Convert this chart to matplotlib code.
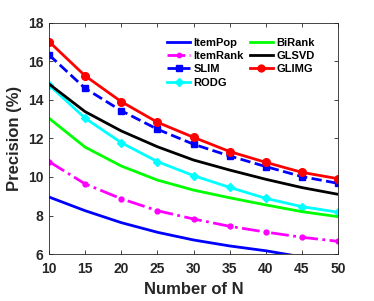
import numpy as np
import matplotlib
matplotlib.use("Agg")
import matplotlib.pyplot as plt

plt.rcParams["font.family"] = ["Liberation Sans", "DejaVu Sans"]
plt.rcParams["font.weight"] = "bold"

n_values = [10, 15, 20, 25, 30, 35, 40, 45, 50]

itempop = [8.96, 8.25, 7.63, 7.13, 6.73, 6.42, 6.17, 5.85, 5.6]
itemrank = [10.8, 9.64, 8.87, 8.25, 7.82, 7.44, 7.14, 6.87, 6.66]
slim = [16.34, 14.6, 13.44, 12.48, 11.7, 11.09, 10.54, 10.02, 9.67]
rodg = [14.78, 13.05, 11.78, 10.8, 10.07, 9.46, 8.89, 8.46, 8.17]
birank = [13.05, 11.55, 10.57, 9.84, 9.32, 8.92, 8.55, 8.2, 7.94]
glsvd = [14.83, 13.39, 12.39, 11.57, 10.88, 10.36, 9.88, 9.45, 9.1]
glimg = [17.03, 15.25, 13.91, 12.84, 12.06, 11.32, 10.76, 10.24, 9.91]

fig = plt.figure(figsize=(3.74, 3.01), dpi=100)
ax = fig.add_axes([0.131, 0.156, 0.773, 0.768])

lw = 2
ax.plot(n_values, itempop, color=(0, 0, 1), lw=lw, label="ItemPop")
ax.plot(n_values, itemrank, color=(1, 0, 1), lw=lw, ls="-.", marker=".",
        markersize=7, label="ItemRank")
ax.plot(n_values, slim, color=(0, 0, 1), lw=lw, ls="--", marker="s",
        markersize=4.5, label="SLIM")
ax.plot(n_values, rodg, color=(0, 1, 1), lw=lw, marker="D",
        markersize=4.5, label="RODG")
ax.plot(n_values, birank, color=(0, 1, 0), lw=lw, label="BiRank")
ax.plot(n_values, glsvd, color="k", lw=lw, label="GLSVD")
ax.plot(n_values, glimg, color=(1, 0, 0), lw=lw, marker="o",
        markersize=5.5, label="GLIMG")

ax.set_xlim(10, 50)
ax.set_ylim(6, 18)
ax.set_xticks(n_values)
ax.set_yticks([6, 8, 10, 12, 14, 16, 18])

dark = (0.15, 0.15, 0.15)
for sp in ax.spines.values():
    sp.set_color(dark)
    sp.set_linewidth(0.6)
ax.tick_params(direction="in", top=True, right=True, length=3,
               width=0.6, colors=dark, labelsize=10)
ax.tick_params(axis="x", pad=6)
ax.tick_params(axis="y", pad=4)
for lab in ax.get_xticklabels() + ax.get_yticklabels():
    lab.set_fontweight("bold")

ax.set_xlabel("Number of N", fontsize=12, fontweight="bold", color=dark,
              labelpad=4)
ax.set_ylabel("Precision (%)", fontsize=12, fontweight="bold", color=dark,
              labelpad=4)

leg = ax.legend(ncol=2, loc="upper right", frameon=False,
                prop={"size": 8, "weight": "bold"},
                handlelength=2.1, handletextpad=0.3, columnspacing=0.5,
                labelspacing=0.3, markerscale=0.9, borderpad=0.3,
                bbox_to_anchor=(0.95, 0.975))
for t in leg.get_texts():
    t.set_color("k")

fig.savefig("out.png", dpi=100)
